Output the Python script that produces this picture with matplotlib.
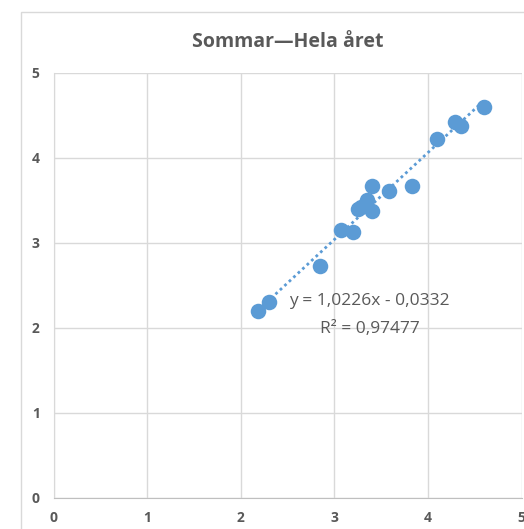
import matplotlib
matplotlib.use("Agg")

import matplotlib.pyplot as plt
from matplotlib.patches import Rectangle
import numpy as np

# summer vs whole-year values
x_vals = [2.18, 2.30, 2.85, 3.07, 3.20, 3.25, 3.28, 3.35, 3.40, 3.40, 3.58, 3.83, 4.10, 4.29, 4.35, 4.60]
y_vals = [2.20, 2.30, 2.72, 3.15, 3.12, 3.40, 3.42, 3.50, 3.37, 3.67, 3.61, 3.66, 4.22, 4.42, 4.37, 4.60]
slope = 1.0226
intercept = -0.0332
r_squared = "0,97477"
ticks = [0, 1, 2, 3, 4, 5]

BLUE = "#5B9BD5"
GRAY = "#595959"
GRID = "#D9D9D9"

plt.rcParams["font.family"] = ["Open Sans", "DejaVu Sans"]

fig = plt.figure(figsize=(5.24, 5.29), dpi=100)
W, H = 524, 529
ax = fig.add_axes([53.5 / W, 1 - 497.5 / H, (521.5 - 53.5) / W, (497.5 - 72.5) / H])

# chart frame (cropped at right/bottom in the reference)
fig.patches.append(Rectangle((20.5 / W, -0.1), 1.2, 1 - 11.5 / H + 0.1,
                             transform=fig.transFigure, fill=False,
                             edgecolor=GRID, linewidth=1.0))

ax.scatter(x_vals, y_vals, s=125, color=BLUE, zorder=3, linewidths=0)

xt = np.array([min(x_vals), max(x_vals)])
ax.plot(xt, slope * xt + intercept, color=BLUE, linestyle=(0, (1, 1.2)),
        linewidth=2.0, zorder=2)

fig.text(369 / W, 1 - 301 / H, "y = 1,0226x - 0,0332", ha="center", va="center",
         fontsize=12.5, color=GRAY)
fig.text(370 / W, 1 - 329 / H, "R² = " + r_squared, ha="center", va="center",
         fontsize=12.5, color=GRAY)

ax.set_xlim(0, 5)
ax.set_ylim(0, 5)
ax.set_xticks(ticks)
ax.set_yticks(ticks)
ax.grid(True, color=GRID, linewidth=1.0)
ax.set_axisbelow(True)
for side in ["top", "right"]:
    ax.spines[side].set_visible(False)
ax.spines["left"].set_color(GRID)
ax.spines["bottom"].set_color("#BFBFBF")
ax.tick_params(length=0, labelsize=10, labelcolor=GRAY, pad=10)
for lbl in ax.get_xticklabels() + ax.get_yticklabels():
    lbl.set_fontweight("bold")

fig.text(0.5 * (53.5 + 521.5) / W, 1 - 42 / H, "Sommar—Hela året",
         ha="center", va="center", fontsize=14, fontweight="bold", color=GRAY)

fig.savefig("out.png", dpi=100)
plt.close(fig)
